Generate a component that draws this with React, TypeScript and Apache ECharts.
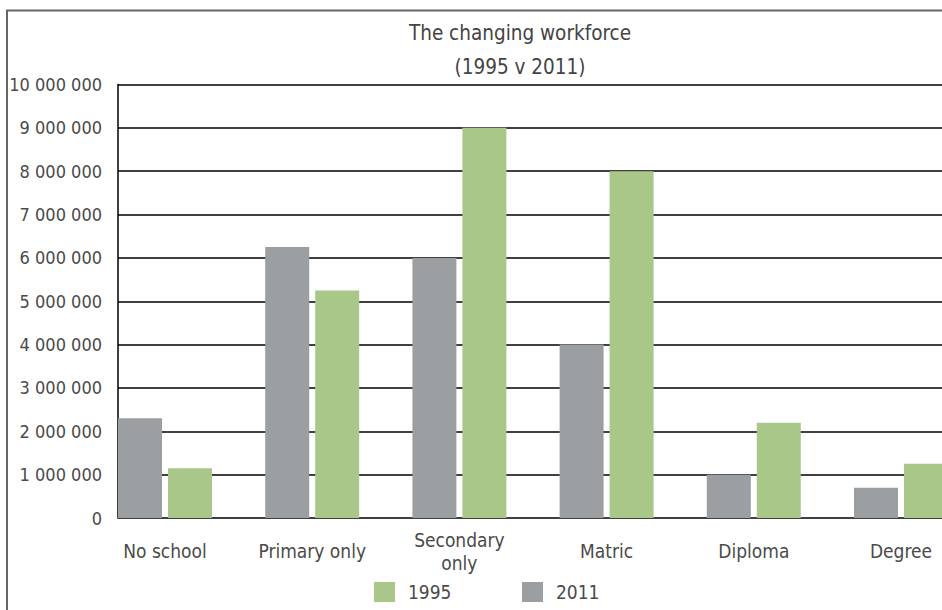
import React, { useEffect, useRef } from "react";
import * as echarts from "echarts";

const categories = ["No school", "Primary only", "Secondary\nonly", "Matric", "Diploma", "Degree"];
const values2011 = [2300000, 6250000, 6000000, 4000000, 1000000, 700000];
const values1995 = [1150000, 5250000, 9000000, 8000000, 2200000, 1250000];
const legendNames = ["1995", "2011"];
const titleText = "The changing workforce\n(1995 v 2011)";

const FONT = "'Liberation Sans Narrow', 'DejaVu Sans Condensed', 'Liberation Sans', sans-serif";

function fmt(v: number): string {
  return String(v).replace(/\B(?=(\d{3})+(?!\d))/g, " ");
}

export default function App() {
  const ref = useRef<HTMLDivElement>(null);
  useEffect(() => {
    if (!ref.current) return;
    const chart = echarts.init(ref.current, undefined, { renderer: "svg" });
    const top = 84.5;
    const height = 433.5;
    chart.setOption({
      animation: false,
      backgroundColor: "#ffffff",
      title: {
        text: titleText,
        left: 520,
        top: 16,
        textAlign: "center",
        padding: 0,
        textStyle: {
          fontFamily: FONT,
          fontSize: 20.5,
          fontWeight: "normal",
          color: "#444444",
          lineHeight: 34,
        },
      },
      legend: {
        data: legendNames,
        left: 374,
        top: 582,
        padding: 0,
        itemWidth: 21,
        itemHeight: 20,
        itemGap: 70.5,
        icon: "rect",
        textStyle: {
          fontFamily: FONT,
          fontSize: 19,
          color: "#4a4a4a",
          padding: [0, 0, 0, 8],
        },
      },
      graphic: [
        {
          type: "rect",
          shape: { x: 7, y: 10.5, width: 1020, height: 700 },
          style: { fill: "none", stroke: "#666666", lineWidth: 2 },
          silent: true,
        },
      ],
      grid: [
        { left: 118, top, width: 900, height, containLabel: false, outerBoundsMode: "none" },
        { left: 91.4, top, width: 883.2, height, containLabel: false, outerBoundsMode: "none" },
      ],
      xAxis: [
        { type: "category", gridIndex: 0, data: categories, show: false },
        {
          type: "category",
          gridIndex: 1,
          data: categories,
          axisLine: { show: false },
          axisTick: { show: false },
          splitLine: { show: false },
          axisLabel: {
            fontFamily: FONT,
            fontSize: 19,
            color: "#4a4a4a",
            margin: 33,
            verticalAlign: "middle",
            lineHeight: 23,
            interval: 0,
          },
        },
      ],
      yAxis: [
        {
          type: "value",
          gridIndex: 0,
          min: 0,
          max: 10000000,
          interval: 1000000,
          axisLine: { show: true, lineStyle: { color: "#000000", width: 1.5 } },
          axisTick: { show: false },
          splitLine: { show: true, lineStyle: { color: "#000000", width: 1.5 } },
          axisLabel: {
            fontFamily: FONT,
            fontSize: 18,
            color: "#4a4a4a",
            margin: 16,
            formatter: (v: number) => fmt(v),
          },
        },
        {
          type: "value",
          gridIndex: 1,
          min: 0,
          max: 10000000,
          interval: 1000000,
          show: false,
          splitLine: { show: false },
        },
      ],
      series: [
        {
          name: "2011",
          type: "bar",
          xAxisIndex: 1,
          yAxisIndex: 1,
          data: values2011,
          barWidth: 44,
          barGap: "13.6%",
          itemStyle: { color: "#9b9fa2" },
          z: 5,
        },
        {
          name: "1995",
          type: "bar",
          xAxisIndex: 1,
          yAxisIndex: 1,
          data: values1995,
          barWidth: 44,
          barGap: "13.6%",
          itemStyle: { color: "#a9c789" },
          z: 5,
        },
      ],
    });
    return () => chart.dispose();
  }, []);
  return (
    <div style={{ position: "fixed", left: 0, top: 0, width: 942, height: 610, overflow: "hidden" }}>
      <div ref={ref} style={{ width: 1040, height: 610 }} />
    </div>
  );
}
